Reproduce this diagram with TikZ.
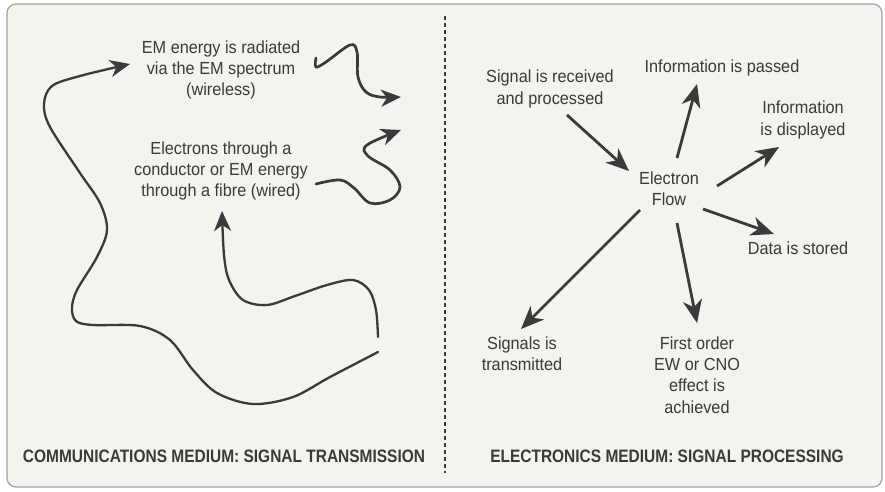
\documentclass[tikz,border=0pt]{standalone}
\usepackage{fontspec}
\setmainfont{Liberation Sans}
\newfontfamily\bodyfont[FakeStretch=0.93]{Liberation Sans}
\newfontfamily\capfont[FakeStretch=0.86]{Liberation Sans Bold}
\usetikzlibrary{arrows.meta}

\definecolor{ink}{HTML}{3A3A3A}
\definecolor{paper}{HTML}{F4F3EE}
\definecolor{rim}{HTML}{A3A3A3}

\tikzset{
  txt/.style={text=ink, align=center, inner sep=0pt,
    font=\bodyfont\fontsize{17.5}{21.3}\selectfont},
  caption/.style={text=ink, inner sep=0pt,
    font=\capfont\fontsize{18}{21}\selectfont},
  bighead/.style={-{Stealth[length=23pt, width=19pt, inset=7pt]}},
  wavehead/.style={-{Stealth[length=20pt, width=17pt, inset=6pt]}},
  flow/.style={bighead, draw=ink, line width=2.8pt},
  wave/.style={draw=ink, line width=2.3pt, line cap=round},
  squiggle/.style={wavehead, draw=ink, line width=2.7pt, line cap=round},
  divider/.style={draw=ink, line width=2pt, dash pattern=on 3.5pt off 3.5pt},
}

\begin{document}
\begin{tikzpicture}[x=1pt, y=-1pt]
  % canvas and framed panel
  \fill[white] (0,0) rectangle (885,491);
  \useasboundingbox (0,0) rectangle (885,491);
  \draw[rim, fill=paper, line width=1.2pt, rounded corners=9pt]
    (7,4) rectangle (882,487);

  % divider between the two media
  \coordinate (divtop) at (445,16);
  \coordinate (divbot) at (445,473);
  \draw[divider] (divtop) -- (divbot);

  % ---------- communications medium ----------
  \node[txt] (wireless) at (221,70)
    {EM energy is radiated\\via the EM spectrum\\(wireless)};
  \node[txt] (wired) at (221,171)
    {Electrons through a\\conductor or EM energy\\through a fibre (wired)};

  % long transmission path ending at the wireless label
  \draw[wave, wavehead] plot[smooth, tension=0.55] coordinates {
    (378,352) (330,377) (293,397) (253,404) (217,393) (193,370)
    (170,340) (140,326) (93,325) (76,321) (72,308) (77,290)
    (97,257) (107,230) (100,203) (80,173) (50,127) (44,104)
    (52,86) (80,76) (130,64)};

  % shorter path rising to the wired label
  \draw[wave, wavehead] plot[smooth, tension=0.55] coordinates {
    (378,337) (376,310) (369,290) (353,280) (327,285) (295,296)
    (267,305) (243,300) (229,280) (224,255) (222,211)};

  % squiggles leaving towards the divider
  \draw[squiggle] plot[smooth, tension=0.6] coordinates {
    (316,58) (316,67) (326,62) (350,45) (357,52) (358,77)
    (366,92) (380,97) (401,97)};
  \draw[squiggle] plot[smooth, tension=0.6] coordinates {
    (316,184) (340,180) (354,188) (370,203) (390,200) (400,187)
    (390,170) (368,156) (367,145) (401,130)};

  % ---------- electronics medium ----------
  \node[txt] (flow)      at (669,189) {Electron\\Flow};
  \node[txt] (received)  at (550,89)  {Signal is received\\and processed};
  \node[txt] (passed)    at (722,68)  {Information is passed};
  \node[txt] (displayed) at (803,120) {Information\\is displayed};
  \node[txt] (stored)    at (798,248) {Data is stored};
  \node[txt] (sent)      at (522,354) {Signals is\\transmitted};
  \node[txt] (effect)    at (697,375) {First order\\EW or CNO\\effect is\\achieved};

  \coordinate (received-out) at (567,115);
  \coordinate (flow-in)      at (629,171);
  \coordinate (flow-n)       at (677,158);
  \coordinate (passed-in)    at (697,84);
  \coordinate (flow-ne)      at (717,186);
  \coordinate (displayed-in) at (779,147);
  \coordinate (flow-e)       at (703,209);
  \coordinate (stored-in)    at (774,234);
  \coordinate (flow-sw)      at (640,210);
  \coordinate (sent-in)      at (521,329);
  \coordinate (flow-s)       at (677,223);
  \coordinate (effect-in)    at (697,323);

  \draw[flow] (received-out) -- (flow-in);
  \draw[flow] (flow-n)  -- (passed-in);
  \draw[flow] (flow-ne) -- (displayed-in);
  \draw[flow] (flow-e)  -- (stored-in);
  \draw[flow] (flow-sw) -- (sent-in);
  \draw[flow] (flow-s)  -- (effect-in);

  % section captions
  \node[caption] (comms) at (224,456) {COMMUNICATIONS MEDIUM: SIGNAL TRANSMISSION};
  \node[caption] (elec)  at (667,456) {ELECTRONICS MEDIUM: SIGNAL PROCESSING};
\end{tikzpicture}
\end{document}
